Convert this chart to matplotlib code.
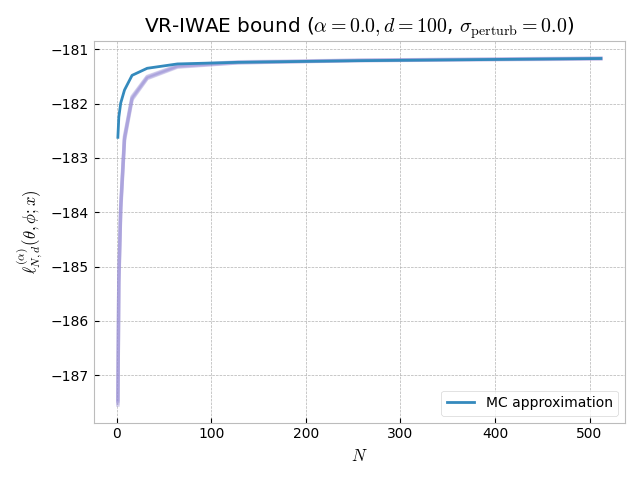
import numpy as np
import matplotlib
matplotlib.use("Agg")
import matplotlib.pyplot as plt

plt.style.use('bmh')
plt.rcParams['axes.facecolor'] = 'white'
plt.rcParams['mathtext.fontset'] = 'cm'

N_values = [1, 2, 4, 8, 16, 32, 64, 128, 256, 512]

# MC approximation of the bound
mc_bound = [-182.62, -182.25, -181.99, -181.75, -181.48, -181.35,
            -181.27, -181.24, -181.21, -181.17]

# individual runs (drawn faint, no legend entry)
runs = [
    [-187.55, -185.35, -183.95, -182.68, -181.93, -181.54, -181.33, -181.25, -181.21, -181.18],
    [-187.48, -185.25, -183.90, -182.62, -181.89, -181.51, -181.31, -181.24, -181.21, -181.17],
    [-187.52, -185.30, -183.98, -182.66, -181.91, -181.53, -181.32, -181.25, -181.20, -181.17],
    [-187.45, -185.20, -183.86, -182.60, -181.87, -181.50, -181.30, -181.23, -181.20, -181.16],
]

fig, ax = plt.subplots(figsize=(6.4, 4.8), dpi=100)

for r in runs:
    ax.plot(N_values, r, color='#988ED5', alpha=0.33, linewidth=2.5)
ax.plot(N_values, mc_bound, color='C0', linewidth=2, label='MC approximation')

ax.set_title(r'VR-IWAE bound ($\alpha=0.0, d=100$, $\sigma_{\rm perturb}=0.0$)')
ax.set_xlabel(r'$N$')
ax.set_ylabel(r'$\ell^{(\alpha)}_{N,d}(\theta,\phi;x)$')
ax.legend(loc='lower right')

fig.tight_layout()
fig.savefig('out.png', dpi=100)
